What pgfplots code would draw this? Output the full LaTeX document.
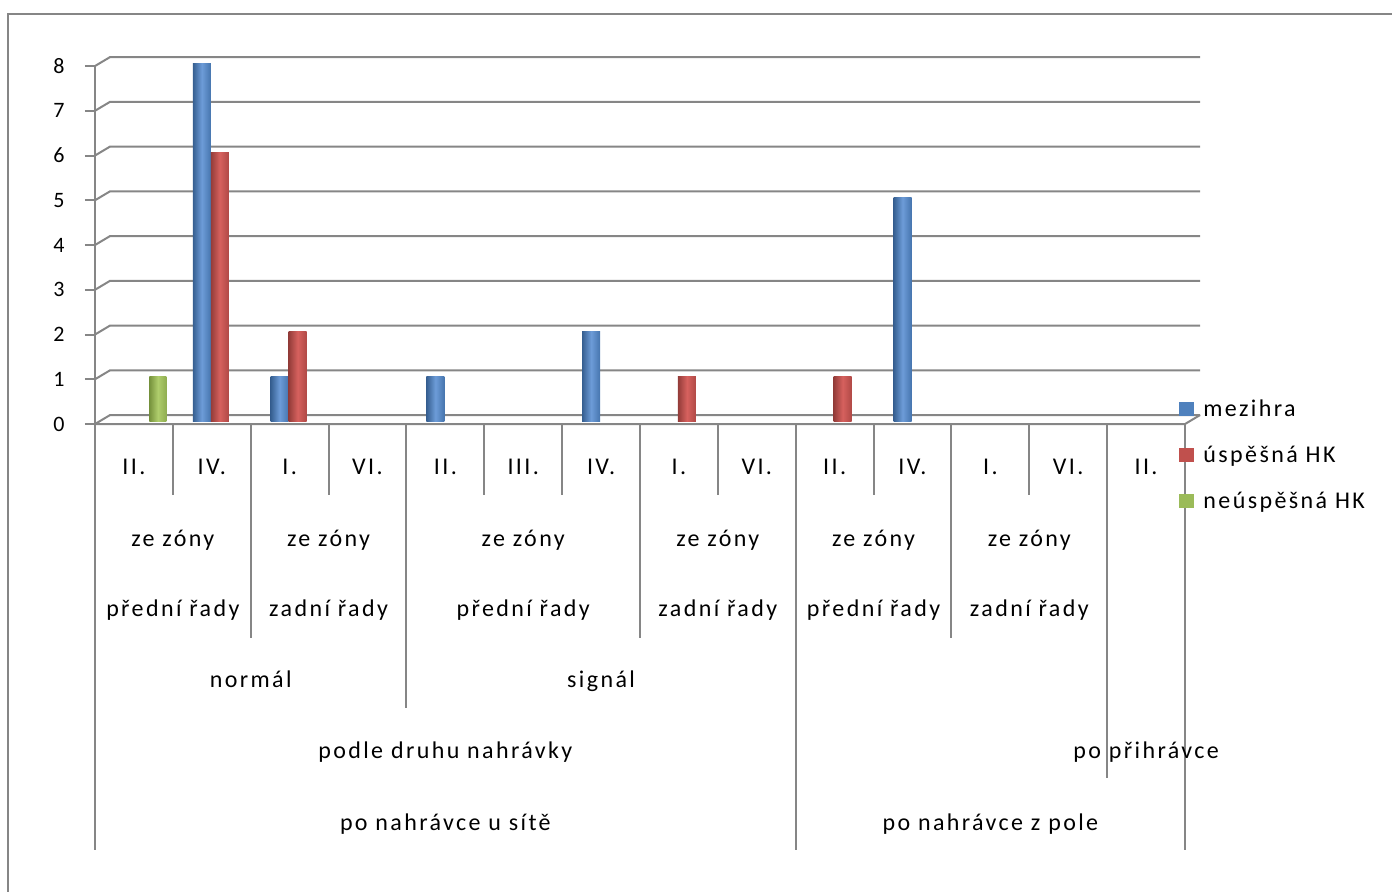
\documentclass[border=0pt]{standalone}
\usepackage{fontspec}
\setmainfont{Carlito}[LetterSpace=10]
\usepackage{pgfplots}
\pgfplotsset{compat=1.18}
\definecolor{gridc}{HTML}{868686}
\definecolor{mz}{HTML}{4F81BD}
\definecolor{mzd}{HTML}{365F91}
\definecolor{mzl}{HTML}{6D9CD8}
\definecolor{mzr}{HTML}{4675AE}
\definecolor{us}{HTML}{C0504D}
\definecolor{usd}{HTML}{943C39}
\definecolor{usl}{HTML}{D6615E}
\definecolor{usr}{HTML}{B04946}
\definecolor{ne}{HTML}{9BBB59}
\definecolor{ned}{HTML}{76923C}
\definecolor{nel}{HTML}{AFCD6C}
\definecolor{ner}{HTML}{8FAD50}
\tikzset{lab/.style={anchor=base, inner sep=0pt}}
\pgfplotsset{
  mzbar/.style={ybar, forget plot, bar width=0.231, bar shift=-0.128, draw=none, yshift=1.5pt,
    left color=mzd, right color=mzr, middle color=mzl},
  usbar/.style={ybar, forget plot, bar width=0.231, bar shift=0.103, draw=none, yshift=1.5pt,
    left color=usd, right color=usr, middle color=usl},
  nebar/.style={ybar, forget plot, bar width=0.22, bar shift=0.308, draw=none, yshift=1.5pt,
    left color=ned, right color=ner, middle color=nel},
}
\begin{document}
\fontsize{12}{14.4}\selectfont
\begin{tikzpicture}
\useasboundingbox (0pt,0pt) rectangle (696pt,-445.5pt);
\draw[gridc, line width=1pt] (4pt,-7pt) rectangle (720pt,-470pt);
\begin{axis}[
 at={(47.5pt,-212pt)}, anchor=south west,
 scale only axis, width=545pt, height=179pt,
 xmin=0, xmax=14, ymin=0, ymax=8,
 clip=false,
 axis line style={draw=none},
 major tick style={draw=none},
 xtick=\empty, ytick={0,...,8},
 yticklabel style={inner sep=0pt, xshift=-15pt, anchor=east, font=\fontsize{11}{12}\selectfont},
 /pgf/number format/assume math mode=true,
 legend cell align=left,
 legend style={draw=none, fill=none, at={(axis cs:13.923,0.536)}, anchor=north west,
   inner sep=0pt, row sep=13pt,
   nodes={inner sep=0pt, text height=8pt, text depth=2pt, anchor=base west},
   /tikz/every odd column/.append style={column sep=4.5pt}},
 legend image code/.code={\fill[#1] (0pt,0pt) rectangle (7.5pt,7pt);},
]
% back wall gridlines with 3D offset
\pgfplotsinvokeforeach{0,...,8}{
  \draw[gridc, line width=1pt] (axis cs:0,#1) -- (axis cs:0.193,#1.2) -- (axis cs:14.193,#1.2);
}
\pgfplotsinvokeforeach{0,...,8}{
  \draw[gridc, line width=1pt] (axis cs:-0.13,#1) -- (axis cs:0,#1);
}
\draw[gridc, line width=1pt] (axis cs:0,0) -- (axis cs:14,0) -- (axis cs:14.193,0.2);
\draw[gridc, line width=1pt] (axis cs:0,8) -- (axis cs:0,-9.52);

% mezihra (blue)
\addplot[mzbar] coordinates {(1.5,8)};
\addplot[mzbar] coordinates {(2.5,1)};
\addplot[mzbar] coordinates {(4.5,1)};
\addplot[mzbar] coordinates {(6.5,2)};
\addplot[mzbar] coordinates {(10.5,5)};
% úspěšná HK (red)
\addplot[usbar] coordinates {(1.5,6)};
\addplot[usbar] coordinates {(2.5,2)};
\addplot[usbar] coordinates {(7.5,1)};
\addplot[usbar] coordinates {(9.5,1)};
% neúspěšná HK (green)
\addplot[nebar] coordinates {(0.5,1)};

\addlegendimage{fill=mz, draw=none}
\addlegendentry{mezihra}
\addlegendimage{fill=us, draw=none}
\addlegendentry{úspěšná HK}
\addlegendimage{fill=ne, draw=none}
\addlegendentry{neúspěšná HK}

% category separators
\draw[gridc, line width=1pt] (axis cs:1,0) -- (axis cs:1,-1.587);
\draw[gridc, line width=1pt] (axis cs:2,0) -- (axis cs:2,-4.782);
\draw[gridc, line width=1pt] (axis cs:3,0) -- (axis cs:3,-1.587);
\draw[gridc, line width=1pt] (axis cs:4,0) -- (axis cs:4,-6.346);
\draw[gridc, line width=1pt] (axis cs:5,0) -- (axis cs:5,-1.587);
\draw[gridc, line width=1pt] (axis cs:6,0) -- (axis cs:6,-1.587);
\draw[gridc, line width=1pt] (axis cs:7,0) -- (axis cs:7,-4.782);
\draw[gridc, line width=1pt] (axis cs:8,0) -- (axis cs:8,-1.587);
\draw[gridc, line width=1pt] (axis cs:9,0) -- (axis cs:9,-9.52);
\draw[gridc, line width=1pt] (axis cs:10,0) -- (axis cs:10,-1.587);
\draw[gridc, line width=1pt] (axis cs:11,0) -- (axis cs:11,-4.782);
\draw[gridc, line width=1pt] (axis cs:12,0) -- (axis cs:12,-1.587);
\draw[gridc, line width=1pt] (axis cs:13,0) -- (axis cs:13,-7.911);
\draw[gridc, line width=1pt] (axis cs:14,0) -- (axis cs:14,-9.52);

% level 1 labels
\node[lab] at (axis cs:0.5,-1.117) {II.};
\node[lab] at (axis cs:1.5,-1.117) {IV.};
\node[lab] at (axis cs:2.5,-1.117) {I.};
\node[lab] at (axis cs:3.5,-1.117) {VI.};
\node[lab] at (axis cs:4.5,-1.117) {II.};
\node[lab] at (axis cs:5.5,-1.117) {III.};
\node[lab] at (axis cs:6.5,-1.117) {IV.};
\node[lab] at (axis cs:7.5,-1.117) {I.};
\node[lab] at (axis cs:8.5,-1.117) {VI.};
\node[lab] at (axis cs:9.5,-1.117) {II.};
\node[lab] at (axis cs:10.5,-1.117) {IV.};
\node[lab] at (axis cs:11.5,-1.117) {I.};
\node[lab] at (axis cs:12.5,-1.117) {VI.};
\node[lab] at (axis cs:13.5,-1.117) {II.};
% level 2
\node[lab] at (axis cs:1,-2.726) {ze zóny};
\node[lab] at (axis cs:1,-4.291) {přední řady};
\node[lab] at (axis cs:3,-2.726) {ze zóny};
\node[lab] at (axis cs:3,-4.291) {zadní řady};
\node[lab] at (axis cs:5.5,-2.726) {ze zóny};
\node[lab] at (axis cs:5.5,-4.291) {přední řady};
\node[lab] at (axis cs:8,-2.726) {ze zóny};
\node[lab] at (axis cs:8,-4.291) {zadní řady};
\node[lab] at (axis cs:10,-2.726) {ze zóny};
\node[lab] at (axis cs:10,-4.291) {přední řady};
\node[lab] at (axis cs:12,-2.726) {ze zóny};
\node[lab] at (axis cs:12,-4.291) {zadní řady};
% level 3
\node[lab] at (axis cs:2,-5.899) {normál};
\node[lab] at (axis cs:6.5,-5.899) {signál};
% level 4
\node[lab] at (axis cs:4.5,-7.464) {podle druhu nahrávky};
\node[lab] at (axis cs:13.5,-7.464) {po přihrávce};
% level 5
\node[lab] at (axis cs:4.5,-9.073) {po nahrávce u sítě};
\node[lab] at (axis cs:11.5,-9.073) {po nahrávce z pole};
\end{axis}
\end{tikzpicture}
\end{document}
